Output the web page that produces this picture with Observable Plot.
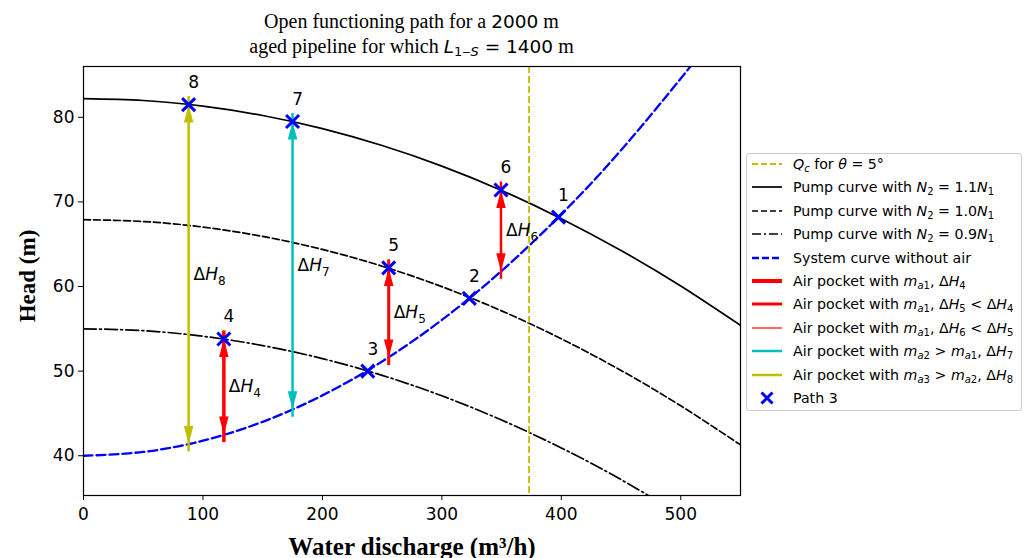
<!DOCTYPE html>
<html><head><meta charset="utf-8">
<script src="https://cdn.jsdelivr.net/npm/d3@7"></script>
<script src="https://cdn.jsdelivr.net/npm/@observablehq/plot@0.6"></script>
<style>
body{margin:0;background:#fff;}
#wrap{position:relative;width:1029px;height:558px;overflow:hidden;background:#fff;}
#chart{position:absolute;left:0;top:0;}
#title{position:absolute;left:0;width:823px;top:9px;text-align:center;font-family:"Liberation Serif",serif;font-size:20px;line-height:24px;color:#000;}
#title .m{font-family:"DejaVu Sans";font-size:18.5px;}
#title sub{font-size:13px;vertical-align:-3px;line-height:0;}
#legend{position:absolute;left:746px;top:153px;width:276px;height:258px;border:1px solid #cccccc;border-radius:3px;box-sizing:border-box;font-family:"DejaVu Sans";font-size:14.2px;color:#000;background:#fff;}
.row{position:absolute;left:0;height:20px;display:flex;align-items:center;}
.row svg{margin-left:5px;width:30px;height:14px;flex:none;}
.row span{margin-left:11px;white-space:nowrap;}
.row sub{font-size:10px;vertical-align:-3px;line-height:0;}
</style></head>
<body>
<div id="wrap">
  <div id="chart"></div>
  <div id="title">Open functioning path for a <span class="m">2000</span> m<br>aged pipeline for which <span class="m"><i>L</i><sub>1‒<i>S</i></sub> = 1400</span> m</div>
  <div id="legend"></div>
</div>
<script>
// ---- data ----
const xTicks = [0, 100, 200, 300, 400, 500];
const yTicks = [40, 50, 60, 70, 80];

const pumpQ   = [0, 50, 100, 150, 200, 250, 300, 350, 400, 450, 500, 550];
const pump11  = [82.2, 81.98, 81.31, 80.21, 78.66, 76.66, 74.23, 71.35, 68.02, 64.26, 60.05, 55.4];
const pump10  = [67.9, 67.68, 67.02, 65.92, 64.38, 62.4, 59.98, 57.12, 53.82, 50.08, 45.9, 41.28];
const pumpQ09 = [0, 50, 100, 150, 200, 250, 300, 350, 400, 450, 500];
const pump09  = [55.0, 54.78, 54.12, 53.02, 51.48, 49.5, 47.08, 44.22, 40.92, 37.18, 33.0];

const sysQ = [0, 50, 100, 150, 200, 250, 300, 350, 400, 450, 500, 520];
const sysH = [40, 40.45, 41.78, 44.01, 47.13, 51.14, 56.05, 61.84, 68.53, 76.11, 84.58, 88.2];

const qCritical = [373];

const pathLabels = ["1", "2", "3", "4", "5", "6", "7", "8"];
const pathQ = [397.6, 323, 238, 117.5, 255.5, 349.5, 175, 88];
const pathH = [68.2, 58.6, 50.0, 53.8, 62.2, 71.4, 79.5, 81.5];

const airLabels = ["ΔH_4", "ΔH_5", "ΔH_6", "ΔH_7", "ΔH_8"];
const airQ      = [117.5, 255.5, 349.5, 175, 88];
const airTop    = [53.8, 62.2, 71.4, 79.5, 81.5];
const airBottom = [42.5, 51.6, 61.8, 45.5, 41.4];

// ---- styles ----
const airStyle = [
  {color: "#ff0000", width: 3.5},
  {color: "#ff0000", width: 3},
  {color: "#ff0000", width: 2.5},
  {color: "#00bfbf", width: 2.5},
  {color: "#bfbf00", width: 2.5}
];
const HEAD_W = 9.5, HEAD_L = 18;
function head(dir) {
  return {draw(ctx) { ctx.moveTo(0, 0); ctx.lineTo(-HEAD_W / 2, dir * HEAD_L); ctx.lineTo(HEAD_W / 2, dir * HEAD_L); ctx.closePath(); }};
}
const xSym = {draw(ctx) { const s = 6.5; ctx.moveTo(-s, -s); ctx.lineTo(s, s); ctx.moveTo(s, -s); ctx.lineTo(-s, s); }};

const airMarks = airQ.flatMap((q, i) => {
  const st = airStyle[i];
  return [
    Plot.ruleX([q], {y1: airBottom[i], y2: airTop[i], stroke: st.color, strokeWidth: st.width, insetTop: 8, insetBottom: 8}),
    Plot.dot([q], {x: d => d, y: () => airTop[i], symbol: head(1), r: 5, fill: st.color, stroke: "none"}),
    Plot.dot([q], {x: d => d, y: () => airBottom[i], symbol: head(-1), r: 5, fill: st.color, stroke: "none"})
  ];
});

const chart = Plot.plot({
  width: 1029, height: 558,
  marginLeft: 83, marginRight: 289, marginTop: 66, marginBottom: 63,
  x: {domain: [0, 550]},
  y: {domain: [35.3, 86]},
  style: {fontFamily: "DejaVu Sans", color: "#000", background: "#fff", overflow: "visible"},
  marks: [
    Plot.line(pumpQ, {x: pumpQ, y: pump11, stroke: "#000", strokeWidth: 1.7, curve: "natural", clip: true}),
    Plot.line(pumpQ, {x: pumpQ, y: pump10, stroke: "#000", strokeWidth: 1.7, strokeDasharray: "7,3", curve: "natural", clip: true}),
    Plot.line(pumpQ09, {x: pumpQ09, y: pump09, stroke: "#000", strokeWidth: 1.7, strokeDasharray: "12.8,3.2,2,3.2", curve: "natural", clip: true}),
    Plot.line(sysQ, {x: sysQ, y: sysH, stroke: "#0000ff", strokeWidth: 2.3, strokeDasharray: "9,4", curve: "natural", clip: true}),
    Plot.ruleX(qCritical, {stroke: "#bfbf00", strokeWidth: 1.8, strokeDasharray: "7,3"}),
    ...airMarks,
    Plot.dot(pathQ, {x: pathQ, y: pathH, symbol: xSym, r: 5, stroke: "#0000ff", strokeWidth: 3, fill: "none"}),
    Plot.text(pathLabels, {x: pathQ, y: pathH, text: pathLabels, dx: 5, dy: -22, fontSize: 17, fill: "#000"}),
    Plot.text(airLabels, {x: airQ, y: airQ.map((q, i) => (airTop[i] + airBottom[i]) / 2), text: airLabels, dx: 5, textAnchor: "start", fontSize: 17, fill: "#000"}),
    Plot.frame({stroke: "#000", strokeWidth: 1.2}),
    Plot.axisX({ticks: xTicks, tickSize: 5, tickPadding: 7, fontSize: 17, label: null}),
    Plot.axisY({ticks: yTicks, tickSize: 5, tickPadding: 4, fontSize: 17, label: null}),
    Plot.text(["Water discharge (m³/h)"], {frameAnchor: "bottom", dy: 51, textAnchor: "middle", lineAnchor: "middle", fontFamily: "Liberation Serif", fontWeight: "bold", fontSize: 25, fill: "#000"}),
    Plot.text(["Head (m)"], {frameAnchor: "left", dx: -56, dy: -5, rotate: -90, textAnchor: "middle", lineAnchor: "middle", fontFamily: "Liberation Serif", fontWeight: "bold", fontSize: 23, fill: "#000"})
  ]
});
document.getElementById("chart").appendChild(chart);

// italic H with subscript for the ΔH labels
const NS = "http://www.w3.org/2000/svg";
chart.querySelectorAll("text").forEach(t => {
  const m = /^ΔH_(\d)$/.exec(t.textContent);
  if (!m) return;
  t.textContent = "Δ";
  const h = document.createElementNS(NS, "tspan");
  h.setAttribute("font-style", "italic"); h.textContent = "H";
  const s = document.createElementNS(NS, "tspan");
  s.setAttribute("font-size", "12"); s.setAttribute("dy", "5"); s.textContent = m[1];
  t.appendChild(h); t.appendChild(s);
});

// legend
const legendItems = [
  {sw: '<line x1="0" x2="30" y1="7" y2="7" stroke="#bfbf00" stroke-width="1.8" stroke-dasharray="6,3"/>', txt: '<i>Q</i><sub><i>c</i></sub> for <i>θ</i> = 5°'},
  {sw: '<line x1="0" x2="30" y1="7" y2="7" stroke="#000" stroke-width="1.7"/>', txt: 'Pump curve with <i>N</i><sub>2</sub> = 1.1<i>N</i><sub>1</sub>'},
  {sw: '<line x1="0" x2="30" y1="7" y2="7" stroke="#000" stroke-width="1.7" stroke-dasharray="6,3"/>', txt: 'Pump curve with <i>N</i><sub>2</sub> = 1.0<i>N</i><sub>1</sub>'},
  {sw: '<line x1="0" x2="30" y1="7" y2="7" stroke="#000" stroke-width="1.7" stroke-dasharray="9,3,2,3"/>', txt: 'Pump curve with <i>N</i><sub>2</sub> = 0.9<i>N</i><sub>1</sub>'},
  {sw: '<line x1="0" x2="30" y1="7" y2="7" stroke="#0000ff" stroke-width="2.3" stroke-dasharray="7,3"/>', txt: 'System curve without air'},
  {sw: '<line x1="0" x2="30" y1="7" y2="7" stroke="#ff0000" stroke-width="4"/>', txt: 'Air pocket with <i>m</i><sub><i>a</i>1</sub>, Δ<i>H</i><sub>4</sub>'},
  {sw: '<line x1="0" x2="30" y1="7" y2="7" stroke="#ff0000" stroke-width="3"/>', txt: 'Air pocket with <i>m</i><sub><i>a</i>1</sub>, Δ<i>H</i><sub>5</sub> &lt; Δ<i>H</i><sub>4</sub>'},
  {sw: '<line x1="0" x2="30" y1="7" y2="7" stroke="#ff0000" stroke-width="1.2"/>', txt: 'Air pocket with <i>m</i><sub><i>a</i>1</sub>, Δ<i>H</i><sub>6</sub> &lt; Δ<i>H</i><sub>5</sub>'},
  {sw: '<line x1="0" x2="30" y1="7" y2="7" stroke="#00bfbf" stroke-width="2.5"/>', txt: 'Air pocket with <i>m</i><sub><i>a</i>2</sub> &gt; <i>m</i><sub><i>a</i>1</sub>, Δ<i>H</i><sub>7</sub>'},
  {sw: '<line x1="0" x2="30" y1="7" y2="7" stroke="#bfbf00" stroke-width="2.5"/>', txt: 'Air pocket with <i>m</i><sub><i>a</i>3</sub> &gt; <i>m</i><sub><i>a</i>2</sub>, Δ<i>H</i><sub>8</sub>'},
  {sw: '<path d="M9.5,1.5L20.5,12.5M20.5,1.5L9.5,12.5" stroke="#0000ff" stroke-width="3" fill="none"/>', txt: 'Path 3'}
];
const leg = document.getElementById("legend");
legendItems.forEach((it, i) => {
  const r = document.createElement("div");
  r.className = "row";
  r.style.top = (0 + i * 23.4) + "px";
  r.innerHTML = '<svg viewBox="0 0 30 14">' + it.sw + '</svg><span>' + it.txt + '</span>';
  leg.appendChild(r);
});
</script>
</body></html>
